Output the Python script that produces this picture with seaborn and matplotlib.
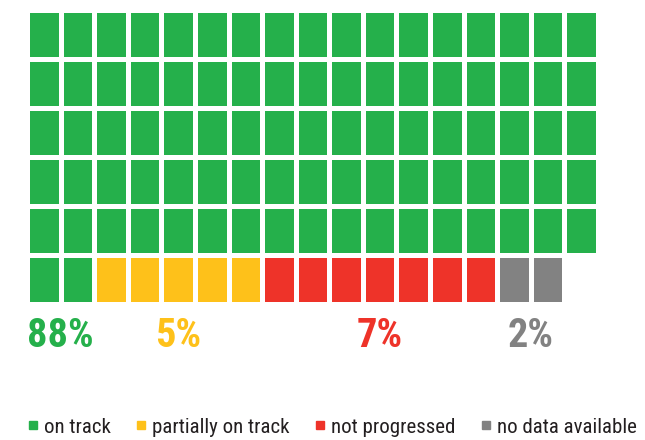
import numpy as np
import seaborn as sns
import matplotlib.pyplot as plt
from matplotlib.colors import ListedColormap
from matplotlib.lines import Line2D

categories = ['on track', 'partially on track', 'not progressed', 'no data available']
counts = [87, 5, 7, 2]
pct_labels = ['88%', '5%', '7%', '2%']
colors = ['#25b04b', '#fec11a', '#ee3329', '#828282']
n_rows, n_cols = 6, 17

sns.set_style('white')
fam = ['Roboto Condensed', 'Liberation Sans Narrow', 'DejaVu Sans']
plt.rcParams['font.family'] = fam
plt.rcParams['font.stretch'] = 'condensed'

codes = np.repeat(np.arange(len(counts)), counts).astype(float)
grid = np.full(n_rows * n_cols, np.nan)
grid[:len(codes)] = codes
grid = grid.reshape(n_rows, n_cols)

fig = plt.figure(figsize=(6.45, 4.4), dpi=100)
ax = fig.add_axes([27 / 645, 1 - 304 / 440, 571 / 645, 294 / 440])
sns.heatmap(grid, mask=np.isnan(grid), cmap=ListedColormap(colors),
            vmin=-0.5, vmax=3.5, linewidths=3.6, linecolor='white',
            cbar=False, xticklabels=False, yticklabels=False, ax=ax)

# percent labels centred under each colour's cells in the last row
last = grid[-1]
for k, lab in enumerate(pct_labels):
    cols = np.where(last == k)[0]
    xc = (cols.min() + cols.max() + 1) / 2
    ax.text(xc, 6.65, lab, color=colors[k], fontsize=29, fontweight='bold',
            ha='center', va='center', clip_on=False, family=fam)

handles = [Line2D([], [], marker='s', linestyle='none', markersize=5.5,
                  markerfacecolor=c, markeredgecolor=c) for c in colors]
fig.legend(handles, categories, loc='center left', ncol=4,
           bbox_to_anchor=(28 / 645, 1 - 427 / 440), frameon=False,
           fontsize=15, handlelength=0.45, handletextpad=0.3,
           columnspacing=1.25, borderaxespad=0, borderpad=0,
           labelcolor='#231f20')

fig.savefig('out.png', dpi=100)
